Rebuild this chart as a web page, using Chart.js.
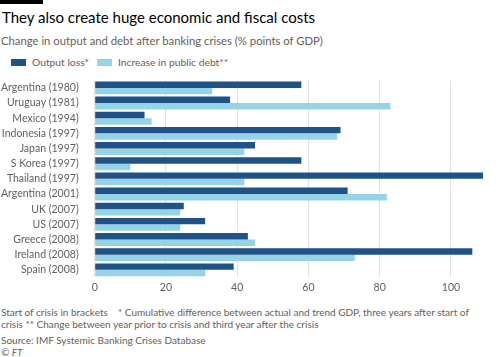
<!DOCTYPE html>
<html><head><meta charset="utf-8">
<script src="https://cdn.jsdelivr.net/npm/chart.js@4"></script>
<style>
html,body{margin:0;padding:0;background:#fff;width:500px;height:357px;overflow:hidden;font-family:Lato,"Open Sans",sans-serif;}
#bar{position:absolute;left:0;top:0;width:43px;height:4px;background:#000;}
#title{position:absolute;left:2px;top:8px;font-size:15px;color:#000;white-space:nowrap;}
#sub{position:absolute;left:1px;top:34px;font-size:11.3px;color:#66605c;white-space:nowrap;}
#legend{position:absolute;left:0;top:56px;height:14px;font-size:10.3px;color:#66605c;white-space:nowrap;}
.sw{position:absolute;top:3px;width:15px;height:7px;}
.lt{position:absolute;top:0;}
#wrap{position:absolute;left:0;top:66px;width:500px;height:232px;}
.foot{position:absolute;left:1px;font-size:10px;color:#66605c;white-space:nowrap;}
</style></head><body>
<div id="bar"></div>
<div id="title">They also create huge economic and fiscal costs</div>
<div id="sub">Change in output and debt after banking crises (% points of GDP)</div>
<div id="legend"></div>
<div id="wrap"><canvas id="c"></canvas></div>
<div class="foot" style="top:306px">Start of crisis in brackets &nbsp;&nbsp; * Cumulative difference between actual and trend GDP, three years after start of</div>
<div class="foot" style="top:318px">crisis ** Change between year prior to crisis and third year after the crisis</div>
<div class="foot" style="top:334px">Source: IMF Systemic Banking Crises Database</div>
<div class="foot" style="top:346px;font-style:italic">© FT</div>
<script>
const categories = ["Argentina (1980)","Uruguay (1981)","Mexico (1994)","Indonesia (1997)","Japan (1997)","S Korea (1997)","Thailand (1997)","Argentina (2001)","UK (2007)","US (2007)","Greece (2008)","Ireland (2008)","Spain (2008)"];
const outputLoss = [58,38,14,69,45,58,109,71,25,31,43,106,39];
const publicDebt = [33,83,16,68,42,10,42,82,24,24,45,73,31];
const seriesNames = ["Output loss*","Increase in public debt**"];
const seriesColors = ['#1f5287','#96d3e7'];
const xTicks = [0,20,40,60,80,100];

const lg = document.getElementById('legend');
const pos = [[11,32],[97,118]];
seriesNames.forEach((n,i)=>{
  const s=document.createElement('div');s.className='sw';s.style.left=pos[i][0]+'px';s.style.background=seriesColors[i];lg.appendChild(s);
  const t=document.createElement('div');t.className='lt';t.style.left=pos[i][1]+'px';t.textContent=n;lg.appendChild(t);
});

const ctx = document.getElementById('c');
new Chart(ctx,{
  type:'bar',
  data:{labels:categories,datasets:[
    {label:seriesNames[0],data:outputLoss,backgroundColor:seriesColors[0],borderWidth:0},
    {label:seriesNames[1],data:publicDebt,backgroundColor:seriesColors[1],borderWidth:0}
  ]},
  options:{
    indexAxis:'y',responsive:true,maintainAspectRatio:false,animation:false,
    layout:{padding:{left:-7,right:17,top:0,bottom:0}},
    plugins:{legend:{display:false},tooltip:{enabled:false}},
    datasets:{bar:{categoryPercentage:0.85,barPercentage:1}},
    scales:{
      x:{min:0,max:109,
        afterBuildTicks:(s)=>{s.ticks=xTicks.map(v=>({value:v}));},
        grid:{color:'#e9e0d8',drawTicks:false,lineWidth:1},
        border:{display:false},
        ticks:{color:'#66605c',font:{family:'Lato',size:10.5},padding:4}},
      y:{grid:{display:false},border:{display:false},
        ticks:{color:'#66605c',font:{family:'Lato',size:10.5},padding:8,autoSkip:false}}
    }
  }
});
</script>
</body></html>
